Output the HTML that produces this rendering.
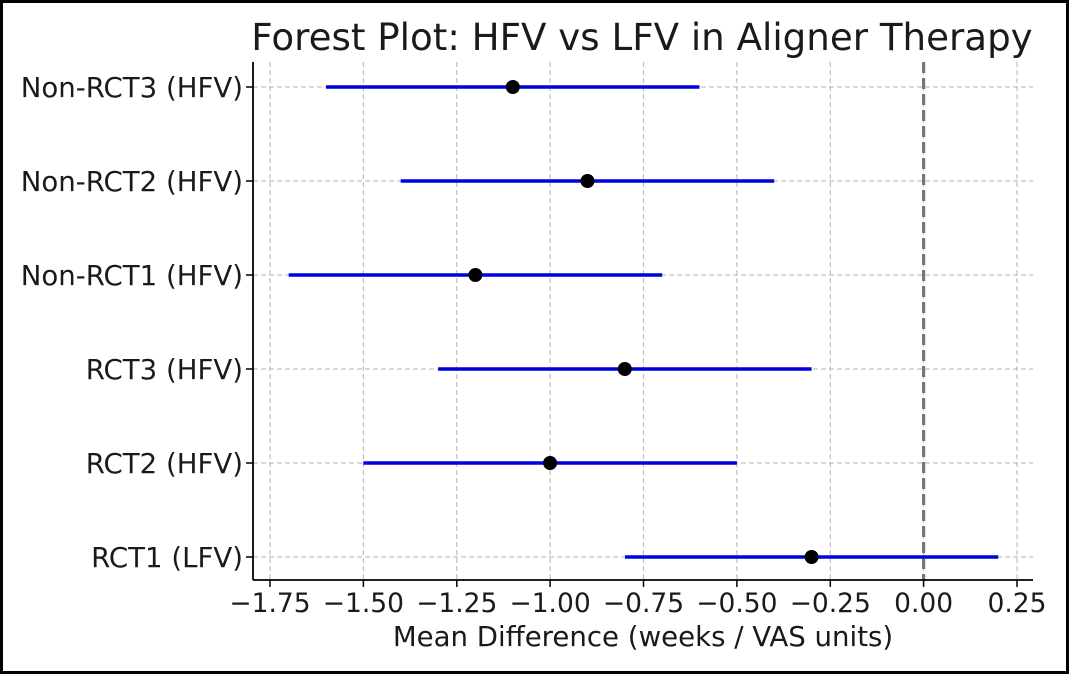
<!DOCTYPE html>
<html><head><meta charset="utf-8"><style>
html,body{margin:0;padding:0;background:#fff}
svg{display:block}
text{font-family:"DejaVu Sans","Liberation Sans",sans-serif;fill:#1a1a1a}
</style></head><body>
<svg width="1069" height="674" xmlns="http://www.w3.org/2000/svg">
<rect x="1.5" y="1.5" width="1066" height="671" fill="#fff" stroke="#000" stroke-width="3"/>
<text x="642" y="50" font-size="37.2" text-anchor="middle" fill="#333">Forest Plot: HFV vs LFV in Aligner Therapy</text>
<g stroke="#c0c0c0" stroke-width="1.2" stroke-dasharray="5,3">
<line x1="270" y1="62" x2="270" y2="580"/><line x1="363.4" y1="62" x2="363.4" y2="580"/>
<line x1="456.8" y1="62" x2="456.8" y2="580"/><line x1="550.1" y1="62" x2="550.1" y2="580"/>
<line x1="643.5" y1="62" x2="643.5" y2="580"/><line x1="736.9" y1="62" x2="736.9" y2="580"/>
<line x1="830.3" y1="62" x2="830.3" y2="580"/><line x1="923.6" y1="62" x2="923.6" y2="580"/>
<line x1="1017" y1="62" x2="1017" y2="580"/>
<line x1="253" y1="87" x2="1033" y2="87"/><line x1="253" y1="181" x2="1033" y2="181"/>
<line x1="253" y1="275" x2="1033" y2="275"/><line x1="253" y1="369" x2="1033" y2="369"/>
<line x1="253" y1="463" x2="1033" y2="463"/><line x1="253" y1="557" x2="1033" y2="557"/>
</g>
<line x1="923.6" y1="62" x2="923.6" y2="580" stroke="#777" stroke-width="3.2" stroke-dasharray="11,5"/>
<g stroke="#0000e0" stroke-width="3.5">
<line x1="326.0" y1="87" x2="699.5" y2="87"/>
<line x1="400.7" y1="181" x2="774.2" y2="181"/>
<line x1="288.7" y1="275" x2="662.2" y2="275"/>
<line x1="438.1" y1="369" x2="811.6" y2="369"/>
<line x1="363.4" y1="463" x2="736.9" y2="463"/>
<line x1="625" y1="557" x2="998.3" y2="557"/>
</g>
<g fill="#000">
<circle cx="512.8" cy="87" r="7"/><circle cx="587.5" cy="181" r="7"/>
<circle cx="475.4" cy="275" r="7"/><circle cx="624.8" cy="369" r="7"/>
<circle cx="550.1" cy="463" r="7"/><circle cx="811.6" cy="557" r="7"/>
</g>
<g stroke="#000" stroke-width="1.8" fill="none">
<line x1="253" y1="62" x2="253" y2="580"/><line x1="253" y1="580" x2="1033" y2="580"/>
</g>
<g stroke="#000" stroke-width="1.5">
<line x1="270" y1="580" x2="270" y2="587"/><line x1="363.4" y1="580" x2="363.4" y2="587"/>
<line x1="456.8" y1="580" x2="456.8" y2="587"/><line x1="550.1" y1="580" x2="550.1" y2="587"/>
<line x1="643.5" y1="580" x2="643.5" y2="587"/><line x1="736.9" y1="580" x2="736.9" y2="587"/>
<line x1="830.3" y1="580" x2="830.3" y2="587"/><line x1="923.6" y1="580" x2="923.6" y2="587"/>
<line x1="1017" y1="580" x2="1017" y2="587"/>
<line x1="246" y1="87" x2="253" y2="87"/><line x1="246" y1="181" x2="253" y2="181"/>
<line x1="246" y1="275" x2="253" y2="275"/><line x1="246" y1="369" x2="253" y2="369"/>
<line x1="246" y1="463" x2="253" y2="463"/><line x1="246" y1="557" x2="253" y2="557"/>
</g>
<g font-size="26.5" text-anchor="middle">
<text x="270" y="612">−1.75</text><text x="363.4" y="612">−1.50</text>
<text x="456.8" y="612">−1.25</text><text x="550.1" y="612">−1.00</text>
<text x="643.5" y="612">−0.75</text><text x="736.9" y="612">−0.50</text>
<text x="830.3" y="612">−0.25</text><text x="923.6" y="612">0.00</text>
<text x="1017" y="612">0.25</text>
</g>
<g font-size="27.6" text-anchor="end">
<text x="243" y="97">Non-RCT3 (HFV)</text><text x="243" y="191">Non-RCT2 (HFV)</text>
<text x="243" y="285">Non-RCT1 (HFV)</text><text x="243" y="379">RCT3 (HFV)</text>
<text x="243" y="473">RCT2 (HFV)</text><text x="243" y="567">RCT1 (LFV)</text>
</g>
<text x="643" y="646" font-size="27.6" text-anchor="middle">Mean Difference (weeks / VAS units)</text>
</svg>
</body></html>
